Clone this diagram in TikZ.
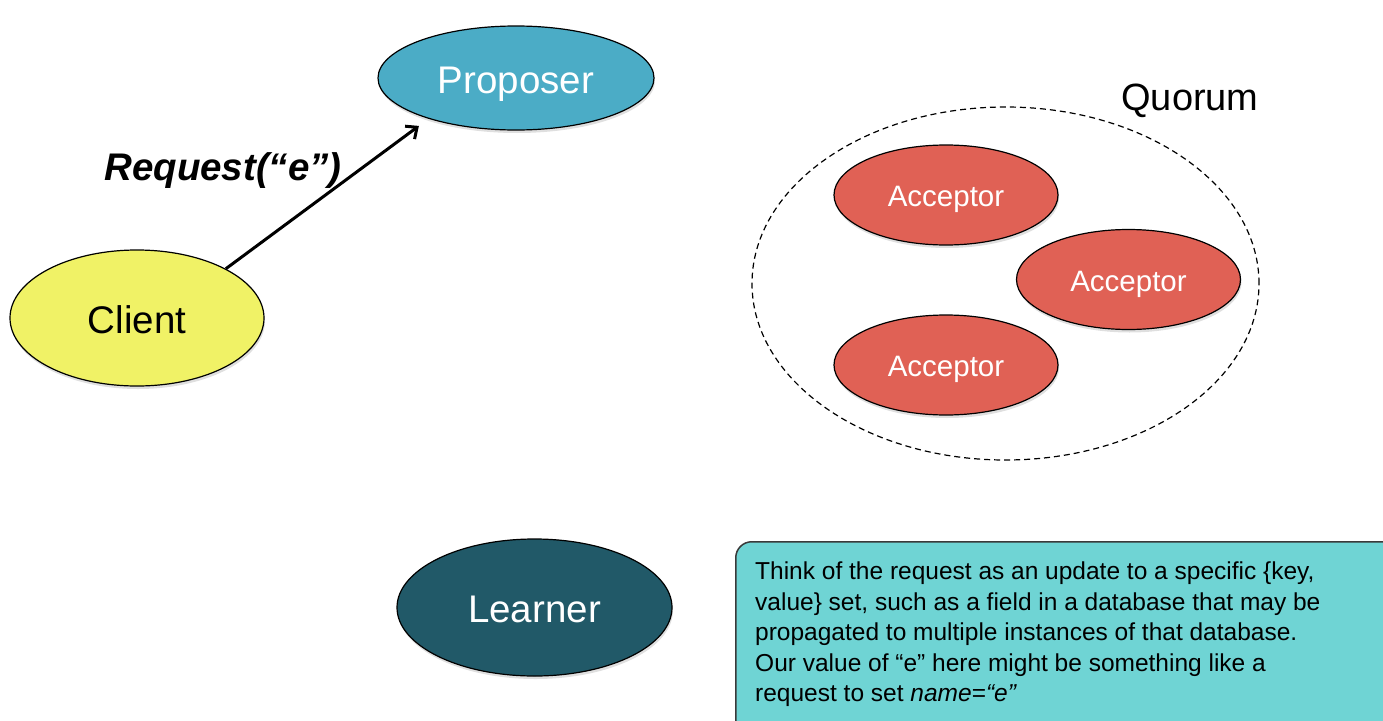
\documentclass[tikz,border=0pt]{standalone}
\usepackage{fontspec}
\setmainfont{Liberation Sans}
\usetikzlibrary{shapes.geometric,arrows.meta,shadows}

\definecolor{proposerblue}{HTML}{4BACC6}
\definecolor{clientyellow}{HTML}{F0F266}
\definecolor{acceptorred}{HTML}{E06155}
\definecolor{learnerteal}{HTML}{215968}
\definecolor{notecyan}{HTML}{6FD4D4}
\definecolor{noteborder}{HTML}{3A3A3A}

\begin{document}
\begin{tikzpicture}[x=1pt,y=-1pt,
  role/.style={ellipse, draw=black, line width=1.2pt, inner sep=0pt,
    font=\fontsize{38.5}{40}\selectfont, text height=30.8pt, text depth=0pt,
    drop shadow={opacity=0.25, shadow xshift=1pt, shadow yshift=-3pt}},
  acceptor/.style={role, fill=acceptorred, text=white,
    minimum width=224pt, minimum height=100pt,
    font=\fontsize{29.5}{32}\selectfont, text height=23.6pt, text depth=0pt},
  quorumring/.style={ellipse, draw=black, line width=1.2pt, dash pattern=on 6pt off 4pt,
    minimum width=507pt, minimum height=353pt, inner sep=0pt},
  notebox/.style={draw=noteborder, line width=1.5pt, fill=notecyan,
    rounded corners=16pt, inner sep=0pt},
  message/.style={line width=3pt, -{Straight Barb[length=9pt,width=16pt,line width=3pt]}}
]
\useasboundingbox (0,0) rectangle (1383,720);

% client and proposer
\node[role, fill=clientyellow, minimum width=254pt, minimum height=136pt] (client) at (137,318) {Client};
\node[role, fill=proposerblue, text=white, minimum width=276pt, minimum height=104pt] (proposer) at (516,78) {Proposer};

% request message
\draw[message, shorten >=12pt] (client.29) -- (proposer.205);
\node[font=\fontsize{38.5}{40}\selectfont\bfseries\itshape] (reqlabel) at (223,171) {Request(“e”)};

% quorum of acceptors
\node[quorumring] (quorum) at (1005.5,283.5) {};
\node[font=\fontsize{38}{40}\selectfont] (quorumlabel) at (1190,101) {Quorum};
\node[acceptor] (acc1) at (946,195) {Acceptor};
\node[acceptor] (acc2) at (1128.5,279.5) {Acceptor};
\node[acceptor] (acc3) at (946,365) {Acceptor};

% learner
\node[role, fill=learnerteal, text=white, minimum width=275pt, minimum height=137pt] (learner) at (534.5,607.5) {Learner};

% explanatory note
\node[notebox, anchor=north west, minimum width=700pt, minimum height=220pt] (note) at (735,541) {};
\node[anchor=north west, align=left, inner sep=0pt,
  font=\fontsize{24.5}{30.5}\selectfont] (notetext) at (755,562)
  {Think of the request as an update to a specific \{key,\\
   value\} set, such as a field in a database that may be\\
   propagated to multiple instances of that database.\\
   Our value of “e” here might be something like a\\
   request to set \textit{name}=\textit{“e”}};
\end{tikzpicture}
\end{document}
